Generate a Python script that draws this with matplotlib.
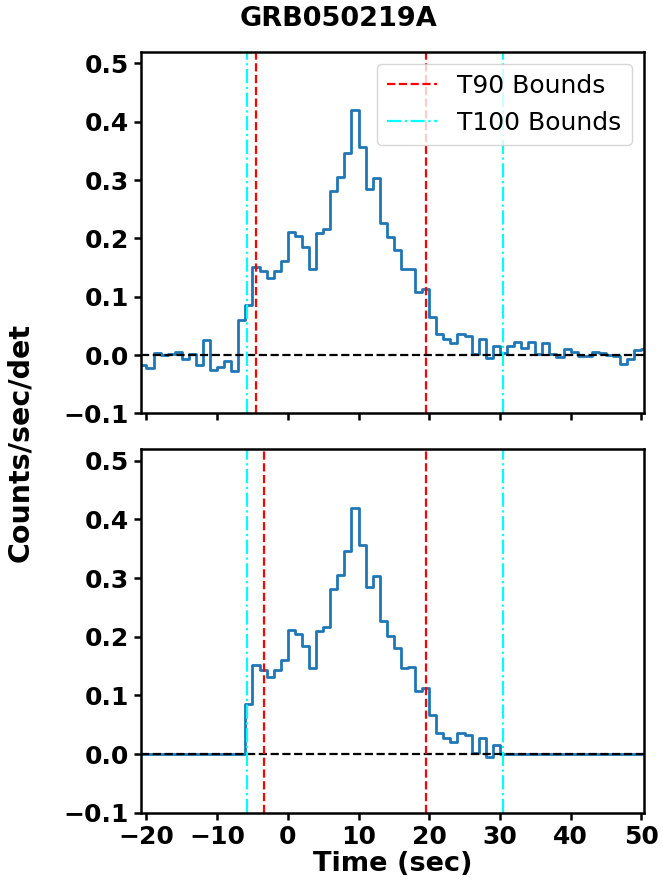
import numpy as np
import matplotlib
matplotlib.use("Agg")
import matplotlib.pyplot as plt

# ---- data ----
bin_start = -21.0
bin_width = 1.0
counts = [-0.018, -0.023, 0.004, 0.000, 0.002, 0.006, -0.007, 0.002, -0.017, 0.025,
          -0.025, -0.020, -0.011, -0.028, 0.060, 0.086, 0.151, 0.144, 0.132, 0.144,
          0.161, 0.211, 0.204, 0.185, 0.147, 0.209, 0.216, 0.281, 0.305, 0.346,
          0.420, 0.356, 0.284, 0.303, 0.226, 0.202, 0.180, 0.147, 0.148, 0.108,
          0.113, 0.066, 0.036, 0.028, 0.020, 0.036, 0.032, 0.002, 0.027, -0.005,
          0.015, 0.003, 0.016, 0.023, 0.012, 0.023, 0.001, 0.020, 0.002, -0.003,
          0.010, 0.005, -0.002, -0.001, 0.006, 0.003, 0.000, -0.001, -0.016, -0.007,
          0.008, 0.010]
t90_top = [-4.44, 19.6]
t90_bottom = [-3.41, 19.6]
t100 = [-5.77, 30.39]
title = "GRB050219A"
ylim = (-0.1, 0.52)
yticks = [-0.1, 0.0, 0.1, 0.2, 0.3, 0.4, 0.5]
xticks = [-20, -10, 0, 10, 20, 30, 40, 50]

counts = np.array(counts)
edges = bin_start + bin_width * np.arange(len(counts) + 1)
centers = 0.5 * (edges[:-1] + edges[1:])
masked = np.where((centers > t100[0]) & (centers < t100[1]), counts, 0.0)

plt.rcParams['font.family'] = ['DejaVu Sans']
plt.rcParams['font.weight'] = 'bold'

fig = plt.figure(figsize=(6.63, 8.86), dpi=100)
ax1 = fig.add_axes([0.2127, 0.5335, 0.7587, 0.4081])
ax2 = fig.add_axes([0.2127, 0.0827, 0.7587, 0.4105], sharex=ax1)

for ax, vals, t90 in [(ax1, counts, t90_top), (ax2, masked, t90_bottom)]:
    ax.step(edges, np.append(vals, vals[-1]), where='post', color='#1f77b4', lw=2.0)
    ax.axhline(0, color='black', ls='--', lw=1.6)
    ax.axvline(t90[0], color='red', ls='--', lw=1.6, label='T90 Bounds')
    ax.axvline(t90[1], color='red', ls='--', lw=1.6)
    ax.axvline(t100[0], color='cyan', ls='-.', lw=1.6, label='T100 Bounds')
    ax.axvline(t100[1], color='cyan', ls='-.', lw=1.6)
    ax.set_ylim(*ylim)
    ax.set_yticks(yticks)
    ax.set_xlim(t100[0] - 15, t100[1] + 20)
    ax.set_xticks(xticks)
    ax.tick_params(labelsize=18, width=1.8, length=5)
    for lab in ax.get_xticklabels() + ax.get_yticklabels():
        lab.set_fontweight('bold')
    for sp in ax.spines.values():
        sp.set_linewidth(1.8)

ax1.tick_params(labelbottom=False)
leg = ax1.legend(loc='upper right', prop={'weight': 'normal', 'size': 18})
ax2.set_xlabel('Time (sec)', fontsize=19.5, fontweight='bold', labelpad=2)
fig.text(0.03, 0.5, 'Counts/sec/det', rotation=90, ha='center', va='center',
         fontsize=20.5, fontweight='bold')
fig.text(0.51, 0.979, title, ha='center', va='center', fontsize=19.5, fontweight='bold')

fig.savefig('out.png', dpi=100)
